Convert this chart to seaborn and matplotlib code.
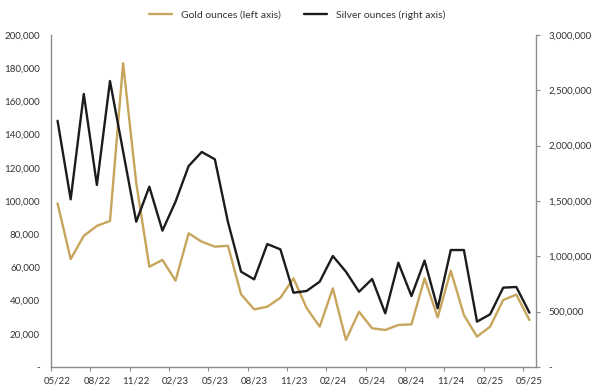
import matplotlib
matplotlib.use("Agg")
import matplotlib.pyplot as plt
import seaborn as sns
import pandas as pd
import numpy as np
from matplotlib.ticker import FuncFormatter, FixedLocator

months = ["05/22", "06/22", "07/22", "08/22", "09/22", "10/22", "11/22", "12/22",
          "01/23", "02/23", "03/23", "04/23", "05/23", "06/23", "07/23", "08/23",
          "09/23", "10/23", "11/23", "12/23", "01/24", "02/24", "03/24", "04/24",
          "05/24", "06/24", "07/24", "08/24", "09/24", "10/24", "11/24", "12/24",
          "01/25", "02/25", "03/25", "04/25", "05/25"]

gold_oz = [98600, 65000, 79000, 85000, 88000, 183000, 111000, 60400,
           64500, 52000, 80500, 75500, 72500, 73000, 43800, 34700,
           36300, 41700, 53400, 35500, 24300, 47400, 16300, 33300,
           23300, 22300, 25300, 25700, 53400, 29900, 58000, 31300,
           18300, 24300, 40400, 43600, 28300]

silver_oz = [2225000, 1515000, 2467000, 1645000, 2584000, 1948000, 1313000, 1629000,
             1232000, 1494000, 1816000, 1943000, 1877000, 1310000, 861000, 792000,
             1111000, 1063000, 671000, 687000, 771000, 1003000, 861000, 680000,
             795000, 485000, 942000, 641000, 961000, 530000, 1057000, 1057000,
             410000, 476000, 717000, 723000, 491000]

gold_label = "Gold ounces (left axis)"
silver_label = "Silver ounces (right axis)"

df = pd.DataFrame({"idx": np.arange(len(months)), "month": months,
                   "gold": gold_oz, "silver": silver_oz})

sns.set_theme(style="white")
plt.rcParams["font.family"] = ["Lato", "DejaVu Sans"]
GOLD = "#C8A55C"
BLACK = "#1c1c1c"
SPINE = "#8c8c8c"
TXT = "#333333"

fig = plt.figure(figsize=(5.98, 3.91), dpi=100)
ax = fig.add_axes([0.0853, 0.0614, 0.8110, 0.8491])
ax2 = ax.twinx()

sns.lineplot(data=df, x="idx", y="gold", ax=ax, color=GOLD, linewidth=1.7, label=gold_label, legend=False)
sns.lineplot(data=df, x="idx", y="silver", ax=ax2, color=BLACK, linewidth=1.7, label=silver_label, legend=False)

ax.set_xlim(-0.5, len(months) - 0.5)
ax.set_ylim(0, 200000)
ax2.set_ylim(0, 3000000)

def fmt_left(v, p):
    return "-" if v == 0 else f"{int(v):,}"

ax.yaxis.set_major_locator(FixedLocator(np.arange(0, 200001, 20000)))
ax.yaxis.set_major_formatter(FuncFormatter(fmt_left))
ax2.yaxis.set_major_locator(FixedLocator(np.arange(0, 3000001, 500000)))
ax2.yaxis.set_major_formatter(FuncFormatter(fmt_left))

ax.set_xticks(np.arange(0, len(months), 3))
ax.set_xticklabels(months[::3])
ax.set_xticks(np.arange(-0.5, len(months) - 0.5, 3), minor=True)
ax.tick_params(axis="x", which="major", length=0, pad=7, labelsize=7, labelcolor=TXT)
ax.tick_params(axis="x", which="minor", length=3, width=0.8, color=SPINE, direction="out", bottom=True)
ax.tick_params(axis="y", length=0, pad=8, labelsize=7, labelcolor=TXT)
ax2.tick_params(axis="y", length=3, width=0.8, color=SPINE, direction="out", pad=6, labelsize=7, labelcolor=TXT)

for a in (ax, ax2):
    a.set_xlabel("")
    a.set_ylabel("")
    a.grid(False)
    a.spines["top"].set_visible(False)
    for s in ("left", "right", "bottom"):
        a.spines[s].set_color(SPINE)
        a.spines[s].set_linewidth(1.0)
ax.spines["right"].set_visible(False)
ax2.spines["left"].set_visible(False)
ax2.spines["bottom"].set_visible(False)

h1, l1 = ax.get_legend_handles_labels()
h2, l2 = ax2.get_legend_handles_labels()
fig.legend(h1 + h2, l1 + l2, loc="center", bbox_to_anchor=(0.497, 0.962), ncol=2,
           frameon=False, fontsize=7.5, handlelength=2.2, columnspacing=2.2,
           handletextpad=0.9, labelcolor=TXT)

fig.savefig("out.png", dpi=100)
